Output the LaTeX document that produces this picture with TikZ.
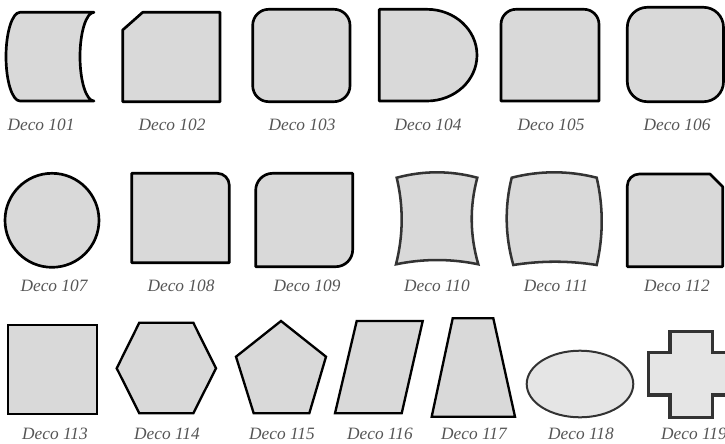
\documentclass[tikz,border=0pt]{standalone}
\usepackage{fontspec}
\setmainfont{Liberation Serif}
\definecolor{shapefill}{HTML}{D9D9D9}
\definecolor{lightfill}{HTML}{E5E5E5}
\definecolor{darkline}{HTML}{333333}
\definecolor{labelgray}{HTML}{555555}
\tikzset{
  blk/.style={draw=black, fill=shapefill, line width=2pt, line join=round},
  blkthin/.style={draw=black, fill=shapefill, line width=1.75pt, line join=miter},
  gry/.style={draw=darkline, fill=shapefill, line width=1.9pt, line join=miter},
  lbl/.style={anchor=base, text=labelgray, font=\itshape\fontsize{13}{15}\selectfont, inner sep=0pt}
}
\begin{document}
\begin{tikzpicture}[x=0.75pt,y=-0.75pt]
\useasboundingbox (0,0) rectangle (725,443);
% Row 1
\draw[blk] (20,12.3) -- (94,12.3) arc[start angle=270,end angle=90,x radius=14,y radius=44.35] -- (20,101) arc[start angle=90,end angle=270,x radius=14,y radius=44.35] -- cycle;
\draw[blk] (122.7,30) -- (142.7,12.3) -- (220,12.3) -- (220,101.7) -- (122.7,101.7) -- cycle;
\draw[blk, rounded corners=12pt] (252.7,9.3) rectangle (350,101.7);
\draw[blk] (379.3,9.3) -- (427,9.3) arc[start angle=270,end angle=450,x radius=50,y radius=45.85] -- (379.3,101) -- cycle;
\draw[blk] (501,101) -- (501,24.3) arc[start angle=180,end angle=270,radius=15] -- (584,9.3) arc[start angle=270,end angle=360,radius=15] -- (599,101) -- cycle;
\draw[blk, rounded corners=15pt] (627.3,7.3) rectangle (723.5,101.7);
\node[lbl] (l101) at (41,130) {Deco 101};
\node[lbl] (l102) at (172,130) {Deco 102};
\node[lbl] (l103) at (302,130) {Deco 103};
\node[lbl] (l104) at (428,130) {Deco 104};
\node[lbl] (l105) at (551,130) {Deco 105};
\node[lbl] (l106) at (677,130) {Deco 106};
% Row 2
\draw[blk] (52,220.3) circle[radius=47];
\draw[blk] (131.7,173.3) -- (217.3,173.3) arc[start angle=270,end angle=360,radius=12] -- (229.3,262.7) -- (131.7,262.7) -- cycle;
\draw[blk] (255.7,266.7) -- (255.7,190.3) arc[start angle=180,end angle=270,radius=17] -- (352.7,173.3) -- (352.7,249.7) arc[start angle=0,end angle=90,radius=17] -- cycle;
\draw[gry] (396.7,177.7) .. controls (423.6,170.5) and (450.4,170.5) .. (477.3,177.7)
  .. controls (469.5,206.6) and (469.9,235.4) .. (478.3,264.3)
  .. controls (450.9,258.6) and (423.4,258.6) .. (396,264.3)
  .. controls (403.3,235.4) and (403.6,206.6) .. cycle;
\draw[gry] (511.7,177.7) .. controls (540,170.5) and (568.4,170.5) .. (596.7,177.7)
  .. controls (603.4,206.8) and (603.4,235.9) .. (596.7,265)
  .. controls (568.9,260.6) and (541.1,260.6) .. (513.3,265)
  .. controls (505.1,235.9) and (504.5,206.8) .. cycle;
\draw[blk] (627.3,266.7) -- (627.3,186) arc[start angle=180,end angle=270,radius=12] -- (710,174) -- (722.7,186.7) -- (722.7,266.7) -- cycle;
\node[lbl] (l107) at (54,291) {Deco 107};
\node[lbl] (l108) at (181,291) {Deco 108};
\node[lbl] (l109) at (307,291) {Deco 109};
\node[lbl] (l110) at (437,291) {Deco 110};
\node[lbl] (l111) at (556,291) {Deco 111};
\node[lbl] (l112) at (677,291) {Deco 112};
% Row 3
\draw[blkthin] (8.3,325) rectangle (96.7,414);
\draw[blkthin] (116.7,368.3) -- (139.3,322.7) -- (193.3,322.7) -- (216,368.3) -- (193.3,413.3) -- (139.3,413.3) -- cycle;
\draw[blkthin] (281,321) -- (326,356.7) -- (309.3,413.3) -- (253.7,413.3) -- (236,356.7) -- cycle;
\draw[blkthin] (356.7,321) -- (422.7,321) -- (401.7,413.3) -- (335,413.3) -- cycle;
\draw[blkthin] (452.7,318.3) -- (493.3,318.3) -- (515,416.7) -- (431.7,416.7) -- cycle;
\draw[draw=darkline, fill=lightfill, line width=1.5pt] (580,384) ellipse[x radius=53.3, y radius=33.3];
\draw[draw=darkline, fill=lightfill, line width=2.4pt] (670,331.7) -- (712.7,331.7) -- (712.7,352.7) -- (734.3,352.7) -- (734.3,395) -- (712.7,395) -- (712.7,417.3) -- (670,417.3) -- (670,395) -- (648.3,395) -- (648.3,352.7) -- (670,352.7) -- cycle;
\node[lbl] (l113) at (55,439.8) {Deco 113};
\node[lbl] (l114) at (167,439.8) {Deco 114};
\node[lbl] (l115) at (282,439.8) {Deco 115};
\node[lbl] (l116) at (380,439.8) {Deco 116};
\node[lbl] (l117) at (474,439.8) {Deco 117};
\node[lbl] (l118) at (581,439.8) {Deco 118};
\node[lbl] (l119) at (694,439.8) {Deco 119};
\end{tikzpicture}
\end{document}
